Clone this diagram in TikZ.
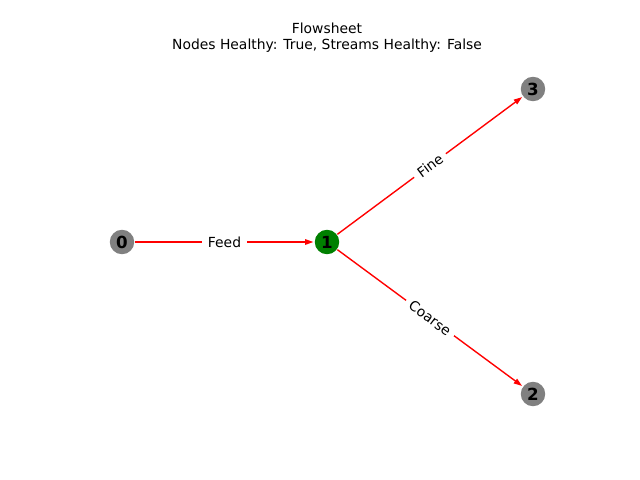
\documentclass[tikz,border=0pt]{standalone}
\usepackage{fontspec}
\setmainfont{DejaVu Sans}
\usetikzlibrary{arrows.meta,positioning}

\begin{document}
\begin{tikzpicture}[x=0.72pt,y=-0.72pt,line width=1pt,
    unit/.style={circle,fill=gray,minimum size=17.6pt,inner sep=0pt,font=\fontsize{12}{14}\selectfont\bfseries},
    stream/.style={draw=red,-{Triangle[length=6pt,width=4pt]},shorten >=0.5pt},
    tag/.style={fill=white,inner xsep=4pt,inner ysep=2pt,font=\fontsize{10}{12}\selectfont,sloped}]

  % canvas
  \useasboundingbox (0,0) rectangle (640,480);

  % title
  \node[align=center,font=\fontsize{10}{12}\selectfont] (title) at (327,37.5)
    {Flowsheet\\Nodes Healthy: True, Streams Healthy: False};

  % The units
  \node[unit] (n0) at (122,242) {0};
  \node[unit,fill={rgb,255:red,0;green,128;blue,0}] (n1) at (327,242) {1};
  \node[unit] (n2) at (533,394) {2};
  \node[unit] (n3) at (533,89) {3};

  % Streams between the units
  \draw[stream] (n0) -- node[tag] {Feed} (n1);
  \draw[stream] (n1) -- node[tag] {Fine} (n3);
  \draw[stream] (n1) -- node[tag] {Coarse} (n2);

\end{tikzpicture}
\end{document}
